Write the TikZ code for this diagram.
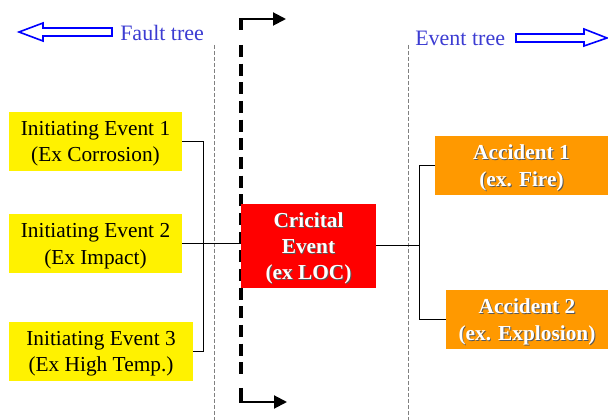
\documentclass[tikz,border=0pt]{standalone}
\usepackage{fontspec}
\setmainfont{Liberation Serif}
\usetikzlibrary{arrows.meta}

\definecolor{treeblue}{RGB}{60,60,210}
\definecolor{accorange}{RGB}{255,153,0}
\newcommand{\shadowed}[1]{\makebox[0pt][l]{\kern0.7pt\raisebox{-0.7pt}{\textcolor{black!65}{#1}}}#1}

\begin{document}
\begin{tikzpicture}[x=0.75pt,y=-0.75pt,
  initbox/.style={fill=yellow,minimum height=44.25pt,inner sep=0pt,align=center,
    text depth=-1pt,font=\fontsize{16}{20}\selectfont},
  accbox/.style={fill=accorange,minimum height=44.25pt,inner sep=0pt,align=center,
    text depth=-1pt,text=white,font=\fontsize{16}{20}\selectfont\bfseries},
  critbox/.style={fill=red,minimum width=101.25pt,minimum height=63pt,inner sep=0pt,
    align=center,text depth=-1.5pt,text=white,font=\fontsize{16}{19.5}\selectfont\bfseries},
  treelabel/.style={anchor=west,inner sep=0pt,text=treeblue,font=\fontsize{16.5}{19}\selectfont},
  blockarrow/.style={draw=blue,line width=1.2pt,fill=white},
  divider/.style={draw=gray,line width=0.6pt,dash pattern=on 3pt off 1.5pt},
  barrier/.style={line width=3pt,dash pattern=on 9pt off 5pt},
  conn/.style={draw,line width=0.75pt}]
  \useasboundingbox (0,0) rectangle (608,420);

  % Fault tree / Event tree
  \filldraw[blockarrow] (19,32) -- (43,23) -- (43,28) -- (112,28) -- (112,36)
    -- (43,36) -- (43,41) -- cycle;
  \node[treelabel] (fault) at (120,33) {Fault tree};
  \node[treelabel] (event) at (415,38) {Event tree};
  \filldraw[blockarrow] (516,34) -- (584,34) -- (584,29) -- (607,38) -- (584,46)
    -- (584,42) -- (516,42) -- cycle;

  % dividers
  \draw[divider] (214,45) -- (214,420);
  \draw[divider] (408,45) -- (408,420);

  % barrier
  \coordinate (btop) at (241,19);
  \coordinate (bbot) at (241,402);
  \draw[barrier] (241,45) -- (241,375);
  \draw[line width=3pt] (241,30) -- (btop);
  \draw[line width=3pt] (241,388) -- (bbot);
  \draw[line width=1.5pt,-{Triangle[length=9.75pt,width=9.75pt]}] ([xshift=-1.5pt]btop) -- (286,19);
  \draw[line width=1.5pt,-{Triangle[length=9.75pt,width=9.75pt]}] ([xshift=-1.5pt]bbot) -- (287,402);

  % initiating events
  \node[initbox,minimum width=129.75pt] (ie1) at (95.5,141.5) {Initiating Event 1\\(Ex Corrosion)};
  \node[initbox,minimum width=129.75pt] (ie2) at (95.5,244) {Initiating Event 2\\(Ex Impact)};
  \node[initbox,minimum width=138pt] (ie3) at (101,351.5) {Initiating Event 3\\(Ex High Temp.)};

  % critical event
  \node[critbox] (crit) at (308.5,246) {\shadowed{Cricital}\\\shadowed{Event}\\\shadowed{(ex LOC)}};

  % accidents
  \node[accbox,minimum width=129.75pt] (acc1) at (521.5,165.5) {\shadowed{Accident 1}\\\shadowed{(ex. Fire)}};
  \node[accbox,minimum width=121.5pt] (acc2) at (527,319.5) {\shadowed{Accident 2}\\\shadowed{(ex. Explosion)}};

  % connectors
  \coordinate (jl) at (203,246);
  \coordinate (jr) at (419,246);
  \draw[conn] (ie1.east) -| (jl);
  \draw[conn] (ie3.east) -| (jl);
  \draw[conn] (ie2.east) -- (ie2.east -| crit.west);
  \draw[conn] (crit.east) -- (jr);
  \draw[conn] (jr) |- (acc1.west);
  \draw[conn] (jr) |- (acc2.west);
\end{tikzpicture}
\end{document}
